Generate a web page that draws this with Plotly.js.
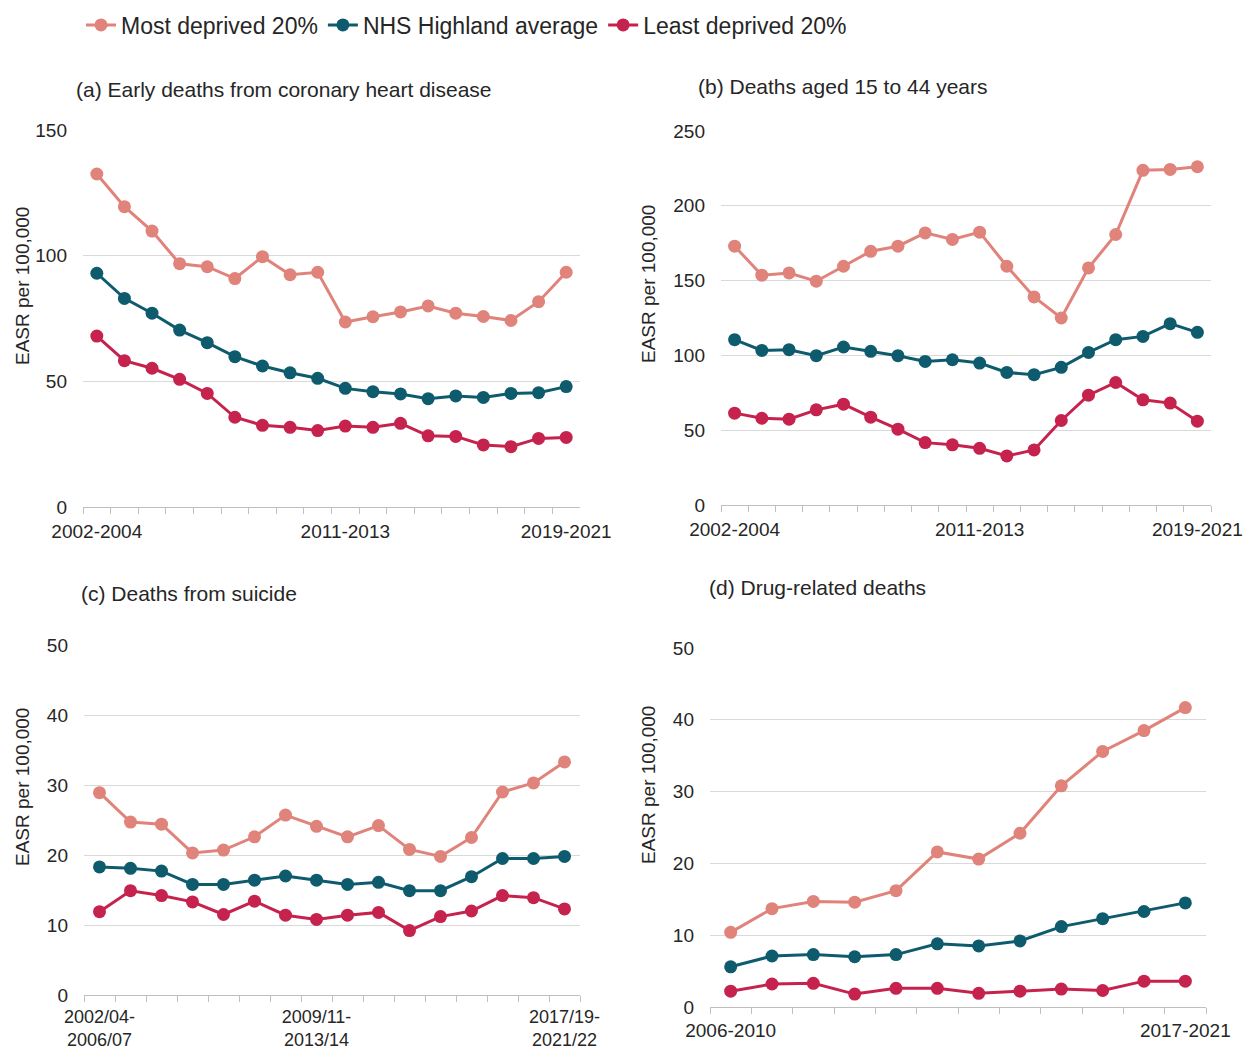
<!DOCTYPE html>
<html>
<head>
<meta charset="utf-8">
<script src="https://cdn.plot.ly/plotly-3.0.1.min.js"></script>
<style>
  html, body { margin: 0; padding: 0; background: #ffffff; }
  #chart { width: 1246px; height: 1050px; }
</style>
</head>
<body>
<div id="chart"></div>
<script>
// ---------- Data ----------
const seriesNames = ['Most deprived 20%', 'NHS Highland average', 'Least deprived 20%'];

// (a) Early deaths from coronary heart disease, 3-year periods
const periodsA = ['2002-2004','2003-2005','2004-2006','2005-2007','2006-2008','2007-2009','2008-2010','2009-2011','2010-2012',
                  '2011-2013','2012-2014','2013-2015','2014-2016','2015-2017','2016-2018','2017-2019','2018-2020','2019-2021'];
const chdMost  = [132.5, 119.5, 109.8, 96.8, 95.6, 90.9, 99.6, 92.4, 93.4, 73.6, 75.7, 77.6, 80.0, 77.1, 75.8, 74.2, 81.7, 93.4];
const chdAvg   = [93.0, 83.0, 77.1, 70.4, 65.4, 59.8, 56.1, 53.4, 51.2, 47.2, 45.9, 45.0, 43.1, 44.2, 43.6, 45.2, 45.5, 47.9];
const chdLeast = [68.0, 58.2, 55.2, 50.8, 45.2, 35.7, 32.5, 31.7, 30.4, 32.2, 31.7, 33.3, 28.3, 28.1, 24.7, 24.0, 27.3, 27.7];

// (b) Deaths aged 15 to 44 years, 3-year periods
const periodsB = periodsA;
const youngMost  = [173.0, 153.6, 155.1, 149.6, 159.6, 169.6, 173.0, 181.9, 177.5, 182.4, 159.6, 139.1, 125.0, 158.5, 180.8, 223.7, 224.3, 226.1];
const youngAvg   = [110.5, 103.3, 103.8, 99.8, 105.6, 102.7, 99.8, 96.0, 97.1, 94.9, 88.6, 87.1, 92.0, 102.0, 110.5, 112.7, 121.2, 115.4];
const youngLeast = [61.4, 58.0, 57.4, 63.6, 67.4, 58.7, 50.7, 41.7, 40.2, 37.9, 32.8, 36.8, 56.5, 73.4, 81.9, 70.3, 68.1, 56.0];

// (c) Deaths from suicide, 5-year rolling periods
const periodsC = ['2002/04-<br>2006/07','2003/05-<br>2007/08','2004/06-<br>2008/09','2005/07-<br>2009/10','2006/08-<br>2010/11',
                  '2007/09-<br>2011/12','2008/10-<br>2012/13','2009/11-<br>2013/14','2010/12-<br>2014/15','2011/13-<br>2015/16',
                  '2012/14-<br>2016/17','2013/15-<br>2017/18','2014/16-<br>2018/19','2015/17-<br>2019/20','2016/18-<br>2020/21',
                  '2017/19-<br>2021/22'];
const suicideMost  = [28.9, 24.7, 24.4, 20.3, 20.7, 22.6, 25.7, 24.1, 22.6, 24.2, 20.8, 19.8, 22.5, 29.0, 30.3, 33.3];
const suicideAvg   = [18.3, 18.1, 17.7, 15.8, 15.8, 16.4, 17.0, 16.4, 15.8, 16.1, 14.9, 14.9, 16.9, 19.5, 19.5, 19.8];
const suicideLeast = [11.9, 14.9, 14.2, 13.3, 11.5, 13.4, 11.4, 10.8, 11.4, 11.8, 9.2, 11.2, 12.0, 14.2, 13.9, 12.3];

// (d) Drug-related deaths, 5-year periods
const periodsD = ['2006-2010','2007-2011','2008-2012','2009-2013','2010-2014','2011-2015','2012-2016','2013-2017',
                  '2014-2018','2015-2019','2016-2020','2017-2021'];
const drugMost  = [10.4, 13.7, 14.7, 14.6, 16.2, 21.6, 20.6, 24.2, 30.8, 35.6, 38.5, 41.7];
const drugAvg   = [5.6, 7.1, 7.3, 7.0, 7.3, 8.8, 8.5, 9.2, 11.2, 12.3, 13.3, 14.5];
const drugLeast = [2.2, 3.2, 3.3, 1.8, 2.6, 2.6, 1.9, 2.2, 2.5, 2.3, 3.6, 3.6];

// tick labels shown on each x axis
const shownA = ['2002-2004', '2011-2013', '2019-2021'];
const shownB = shownA;
const shownC = ['2002/04-<br>2006/07', '2009/11-<br>2013/14', '2017/19-<br>2021/22'];
const shownD = ['2006-2010', '2017-2021'];

const panelTitles = ['(a) Early deaths from coronary heart disease', '(b) Deaths aged 15 to 44 years',
                     '(c) Deaths from suicide', '(d) Drug-related deaths'];
const yTitle = 'EASR per 100,000';

// ---------- Styling ----------
const colors = ['#E0837A', '#0F5B6E', '#C6224E'];
const FONT = '"Liberation Sans", Arial, sans-serif';
const W = 1246, H = 1050;
const px = v => v / W;
const py = v => 1 - v / H;

const panels = [
  { cats: periodsA, shown: shownA, data: [chdMost, chdAvg, chdLeast], range: [0, 150], dtick: 50,
    x0: 83, x1: 580, yTop: 130, yBot: 507, xStand: 7, xFont: 19 },
  { cats: periodsB, shown: shownB, data: [youngMost, youngAvg, youngLeast], range: [0, 250], dtick: 50,
    x0: 721, x1: 1211, yTop: 131, yBot: 505, xStand: 7, xFont: 19 },
  { cats: periodsC, shown: shownC, data: [suicideMost, suicideAvg, suicideLeast], range: [0, 50], dtick: 10,
    x0: 84, x1: 580, yTop: 645, yBot: 995, xStand: 5, xFont: 18 },
  { cats: periodsD, shown: shownD, data: [drugMost, drugAvg, drugLeast], range: [0, 50], dtick: 10,
    x0: 710, x1: 1206, yTop: 648, yBot: 1007, xStand: 6, xFont: 19 }
];

const traces = [];
const layout = {
  width: W, height: H,
  margin: { l: 0, r: 0, t: 0, b: 0 },
  paper_bgcolor: '#ffffff', plot_bgcolor: '#ffffff',
  font: { family: FONT, size: 18, color: '#404040' },
  showlegend: true,
  legend: {
    orientation: 'h', x: px(81), y: py(25), xanchor: 'left', yanchor: 'middle',
    font: { family: FONT, size: 23, color: '#262626' },
    itemwidth: 30, tracegroupgap: 0, bgcolor: 'rgba(0,0,0,0)'
  },
  annotations: []
};

const titlePos = [
  { x: 74, y: 89 }, { x: 696, y: 86 }, { x: 79, y: 593 }, { x: 707, y: 587 }
];
const yTitlePos = [
  { x: 22, y: 286 }, { x: 648, y: 284 }, { x: 22, y: 787 }, { x: 648, y: 785 }
];

panels.forEach((p, i) => {
  const xa = i === 0 ? 'x' : 'x' + (i + 1);
  const ya = i === 0 ? 'y' : 'y' + (i + 1);
  const xKey = i === 0 ? 'xaxis' : 'xaxis' + (i + 1);
  const yKey = i === 0 ? 'yaxis' : 'yaxis' + (i + 1);

  p.data.forEach((vals, s) => {
    traces.push({
      type: 'scatter', mode: 'lines+markers',
      x: p.cats, y: vals, xaxis: xa, yaxis: ya,
      name: seriesNames[s], legendgroup: seriesNames[s], showlegend: i === 0,
      line: { color: colors[s], width: 3 },
      marker: { color: colors[s], size: 13 },
      cliponaxis: false
    });
  });

  layout[xKey] = {
    domain: [px(p.x0), px(p.x1)],
    anchor: ya,
    type: 'category',
    categoryorder: 'array', categoryarray: p.cats,
    range: [-0.5, p.cats.length - 0.5],
    tickmode: 'array',
    tickvals: p.cats,
    ticktext: p.cats.map(c => p.shown.includes(c) ? c : ''),
    tickson: 'boundaries',
    ticks: 'outside', ticklen: 6, tickcolor: '#BFBFBF', tickwidth: 1,
    ticklabelstandoff: p.xStand,
    showline: true, linecolor: '#BFBFBF', linewidth: 1,
    showgrid: false, zeroline: false,
    tickangle: 0,
    tickfont: { family: FONT, size: p.xFont, color: '#262626' },
    fixedrange: true
  };
  layout[yKey] = {
    domain: [py(p.yBot), py(p.yTop)],
    anchor: xa,
    range: p.range,
    dtick: p.dtick, tick0: 0,
    showgrid: true, gridcolor: '#D9D9D9', gridwidth: 1,
    zeroline: false, showline: false, ticks: '',
    ticklabelstandoff: 15,
    tickfont: { family: FONT, size: 19, color: '#262626' },
    fixedrange: true
  };

  layout.annotations.push({
    xref: 'paper', yref: 'paper', x: px(titlePos[i].x), y: py(titlePos[i].y),
    xanchor: 'left', yanchor: 'middle', showarrow: false,
    text: panelTitles[i], font: { family: FONT, size: 21, color: '#262626' }
  });
  layout.annotations.push({
    xref: 'paper', yref: 'paper', x: px(yTitlePos[i].x), y: py(yTitlePos[i].y),
    xanchor: 'center', yanchor: 'middle', showarrow: false, textangle: -90,
    text: yTitle, font: { family: FONT, size: 19, color: '#262626' }
  });
});

Plotly.newPlot('chart', traces, layout, { displayModeBar: false, staticPlot: true });
</script>
</body>
</html>
